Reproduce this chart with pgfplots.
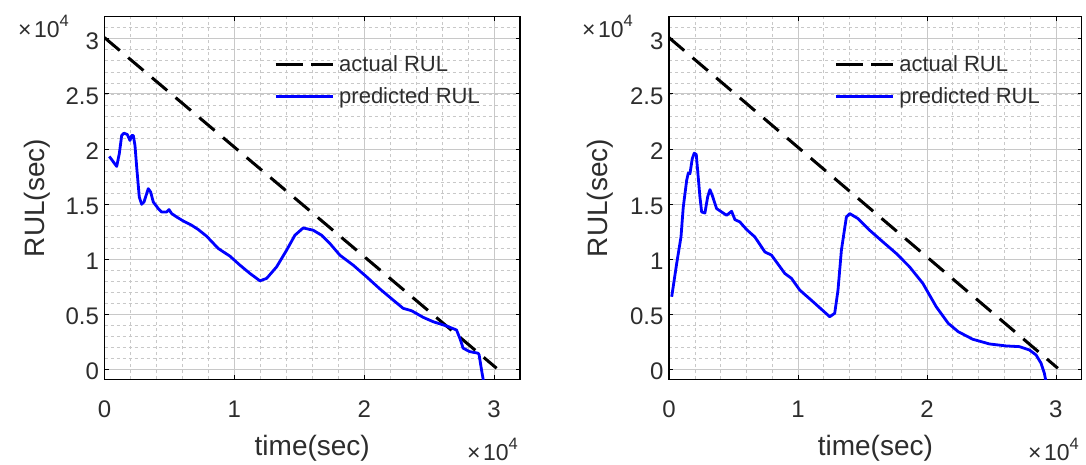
\documentclass[border=0pt]{standalone}
\usepackage{fontspec}
\setmainfont{Liberation Sans}
\usepackage{pgfplots}
\pgfplotsset{compat=1.18}
\definecolor{txt}{RGB}{45,45,45}
\definecolor{gridmaj}{RGB}{200,200,200}
\definecolor{gridmin}{RGB}{200,200,200}

\pgfplotsset{
  rul/.style={
    scale only axis,
    height=362.6bp,
    xmin=0, xmax=32000, ymin=-900, ymax=32000,
    scaled ticks=false,
    xtick={0,10000,20000,30000}, xticklabels={0,1,2,3},
    ytick={0,5000,10000,15000,20000,25000,30000},
    yticklabels={0,0.5,1,1.5,2,2.5,3},
    minor xtick={2000,4000,...,32000},
    minor ytick={1000,2000,...,31000},
    grid=both,
    major grid style={gridmaj, line width=0.8bp},
    minor grid style={gridmin, line width=0.6bp, dash pattern=on 3bp off 3bp},
    axis line style={black, line width=1.1bp},
    tick align=inside, major tick length=4bp, minor tick length=0pt,
    tick style={black, line width=0.8bp},
    ticklabel style={font=\fontsize{24bp}{28bp}\selectfont, text=txt},
    xticklabel style={anchor=base, yshift=-37.7bp},
    yticklabel style={anchor=east, xshift=-2bp, yshift=-2bp},
    label style={font=\fontsize{28bp}{32bp}\selectfont, text=txt},
    xlabel={time(sec)}, ylabel={RUL(sec)},
    xlabel style={at={(axis description cs:0.5,-0.209)}, anchor=base},
    legend style={draw=none, fill=none, inner sep=0pt, anchor=north west,
      font=\fontsize{22bp}{26bp}\selectfont, text=txt,
      row sep=11bp, column sep=3bp},
    legend cell align=left,
    legend image code/.code={\draw[#1] (0bp,0bp) -- (57bp,0bp);},
  },
  actual/.style={black, line width=3bp, dash pattern=on 20bp off 11bp,
    legend image post style={dash pattern=on 27bp off 8.5bp}},
  pred/.style={blue, line width=2.8bp, line join=round},
}

% MATLAB-like exponent label
\newcommand{\expo}{{\fontsize{23bp}{26bp}\selectfont ×\hspace{2.5bp}10}%
  \raisebox{10.5bp}{\fontsize{16.5bp}{19bp}\selectfont 4}}

\begin{document}
\begin{tikzpicture}
\path[use as bounding box] (0,0) rectangle (1086bp,465bp);

% left panel
\begin{axis}[rul, width=415.5bp, at={(104.5bp,85.7bp)}, anchor=south west,
  ylabel style={at={(axis description cs:-0.1456,0.5)}, anchor=base},
  legend style={at={(axis description cs:0.408,0.899)}}]
\addplot[actual] coordinates {(0,30100) (30200,100)};
\addplot[pred] coordinates {
(370,19322) (939,18417) (1139,19566) (1324,21222) (1501,21430) (1755,21313)
(1963,20770) (2094,21222) (2217,21222) (2348,20317) (2479,18353) (2679,15638)
(2864,14978) (3041,15186) (3372,16399) (3556,16091) (3757,15186) (4142,14589)
(4403,14281) (4788,14281) (4965,14498) (5173,14136) (5558,13828) (6066,13466)
(6712,13077) (7221,12688) (7867,12082) (8760,10969) (9661,10272) (10431,9457)
(11201,8706) (11970,8036) (12486,8254) (13256,9303) (14026,10815) (14665,12172)
(15304,12833) (16073,12625) (16720,12172) (17359,11421) (18129,10362) (19153,9457)
(20184,8398) (21208,7300) (22232,6290) (23001,5539) (23648,5321) (24541,4724)
(25311,4326) (26343,3937) (27112,3575) (27366,2824) (27620,1919) (28136,1611)
(28775,1466) (28852,1312) (29037,-45) (29250,-1500)
};
\legend{actual RUL, predicted RUL}
\end{axis}

% right panel
\begin{axis}[rul, width=412.7bp, at={(669bp,85.7bp)}, anchor=south west,
  ylabel style={at={(axis description cs:-0.148,0.5)}, anchor=base},
  legend style={at={(axis description cs:0.40,0.899)}}]
\addplot[actual] coordinates {(0,30100) (30150,100)};
\addplot[pred] coordinates {
(209,6588) (596,9611) (929,12018) (1107,14733) (1370,17150) (1494,17810)
(1625,17756) (1803,19114) (1958,19620) (2113,19503) (2221,18055) (2399,15638)
(2531,14281) (2786,14190) (2995,15638) (3173,16308) (3351,15792) (3692,14589)
(4079,14281) (4466,13982) (4853,14344) (5108,13593) (5495,13376) (6014,12688)
(6656,12018) (7430,10661) (7949,10362) (8978,8706) (9497,8254) (10139,7195)
(11169,6136) (12461,4778) (12848,5086) (13104,7195) (13367,10815) (13754,13828)
(14009,14136) (14651,13684) (15557,12625) (16586,11566) (17624,10516) (18653,9303)
(19682,7801) (20720,5683) (21649,4181) (22423,3421) (23553,2733) (24845,2308)
(26138,2127) (27167,2063) (27941,1765) (28460,1312) (28847,561) (29102,-344)
(29300,-1500)
};
\legend{actual RUL, predicted RUL}
\end{axis}

% exponent labels
\begin{scope}[every node/.style={text=txt, inner sep=0pt, anchor=base east}]
\node at (69bp,427.7bp) {\expo};
\node at (518bp,5bp) {\expo};
\node at (633bp,427.7bp) {\expo};
\node at (1079bp,5bp) {\expo};
\end{scope}
\end{tikzpicture}
\end{document}
